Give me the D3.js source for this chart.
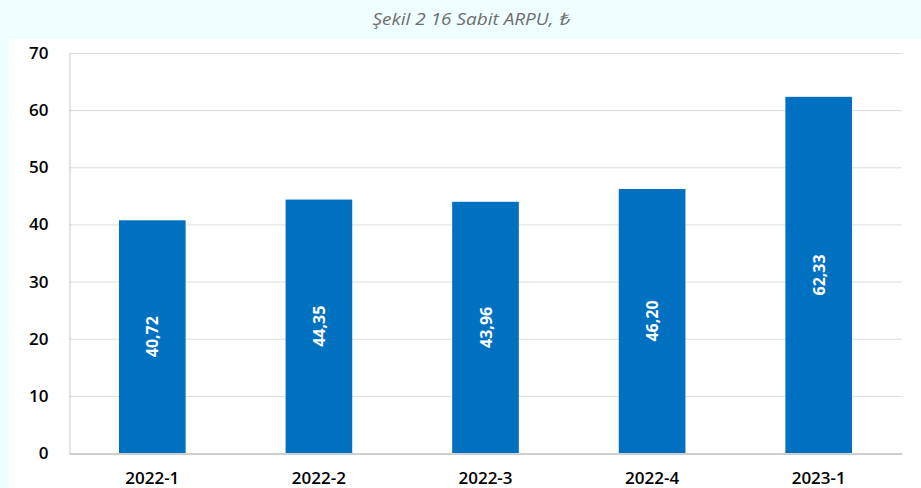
<!DOCTYPE html>
<html>
<head>
<meta charset="utf-8">
<script src="https://cdn.jsdelivr.net/npm/d3@7"></script>
<style>
  body { margin: 0; background: #effeff; }
  svg { display: block; }
</style>
</head>
<body>
<div id="chart"></div>
<script>
// data
var periods = ["2022-1", "2022-2", "2022-3", "2022-4", "2023-1"];
var arpu = [40.72, 44.35, 43.96, 46.20, 62.33];
var yTicks = [0, 10, 20, 30, 40, 50, 60, 70];

var width = 921, height = 488;
var margin = {top: 53, right: 19, bottom: 35, left: 69};

var svg = d3.select("#chart").append("svg")
    .attr("width", width)
    .attr("height", height);

// white panel under the cyan title band
svg.append("rect")
    .attr("x", 9).attr("y", 39)
    .attr("width", width - 9).attr("height", height - 39)
    .attr("fill", "#ffffff");

svg.append("text")
    .attr("x", 471).attr("y", 25)
    .attr("text-anchor", "middle")
    .attr("font-family", "'Liberation Sans Narrow', 'Open Sans', sans-serif")
    .attr("font-style", "italic")
    .attr("font-size", 17)
    .attr("fill", "#6e6e6e")
    .attr("textLength", 197)
    .attr("lengthAdjust", "spacingAndGlyphs")
    .text("Şekil 2 16 Sabit ARPU, ₺");

var x = d3.scaleBand()
    .domain(periods)
    .range([margin.left, width - margin.right]);

var y = d3.scaleLinear()
    .domain([0, 70])
    .range([height - margin.bottom, margin.top]);

// gridlines
svg.append("g")
    .selectAll("line")
    .data(yTicks.slice(1))
    .enter()
    .append("line")
    .attr("x1", margin.left)
    .attr("x2", width - margin.right)
    .attr("y1", function(d) { return y(d) + 0.5; })
    .attr("y2", function(d) { return y(d) + 0.5; })
    .attr("stroke", "#dcdcdc")
    .attr("stroke-width", 1);

// y axis
var yAxis = svg.append("g")
    .attr("transform", "translate(" + (margin.left + 0.5) + ",0)")
    .call(d3.axisLeft(y).tickValues(yTicks).tickSize(0).tickPadding(21));
yAxis.select(".domain").attr("stroke", "#c8c8c8");
yAxis.selectAll("text")
    .attr("font-family", "Open Sans")
    .attr("font-size", 17)
    .attr("font-weight", 600)
    .attr("fill", "#000");

var barW = x.bandwidth() * 0.4;

svg.append("g")
    .selectAll("rect")
    .data(arpu)
    .enter()
    .append("rect")
    .attr("x", function(d, i) { return x(periods[i]) + (x.bandwidth() - barW) / 2; })
    .attr("y", function(d) { return y(d); })
    .attr("width", barW)
    .attr("height", function(d) { return y(0) - y(d); })
    .attr("fill", "#0070c0");

// value labels, rotated, in the middle of each bar
svg.append("g")
    .selectAll("text")
    .data(arpu)
    .enter()
    .append("text")
    .attr("transform", function(d, i) {
        var cx = x(periods[i]) + x.bandwidth() / 2;
        var cy = (y(d) + y(0)) / 2;
        return "translate(" + (cx + 6) + "," + cy + ") rotate(-90)";
    })
    .attr("text-anchor", "middle")
    .attr("font-family", "Open Sans")
    .attr("font-weight", "bold")
    .attr("font-size", 16)
    .attr("fill", "#ffffff")
    .text(function(d) { return d.toFixed(2).replace(".", ","); });

// x axis
var xAxis = svg.append("g")
    .attr("transform", "translate(0," + (y(0) + 0.5) + ")")
    .call(d3.axisBottom(x).tickSize(0).tickPadding(18));
xAxis.select(".domain").attr("stroke", "#bfbfbf").attr("stroke-width", 1.5);
xAxis.selectAll("text")
    .attr("font-family", "Open Sans")
    .attr("font-size", 17)
    .attr("font-weight", 600)
    .attr("fill", "#000");
</script>
</body>
</html>
